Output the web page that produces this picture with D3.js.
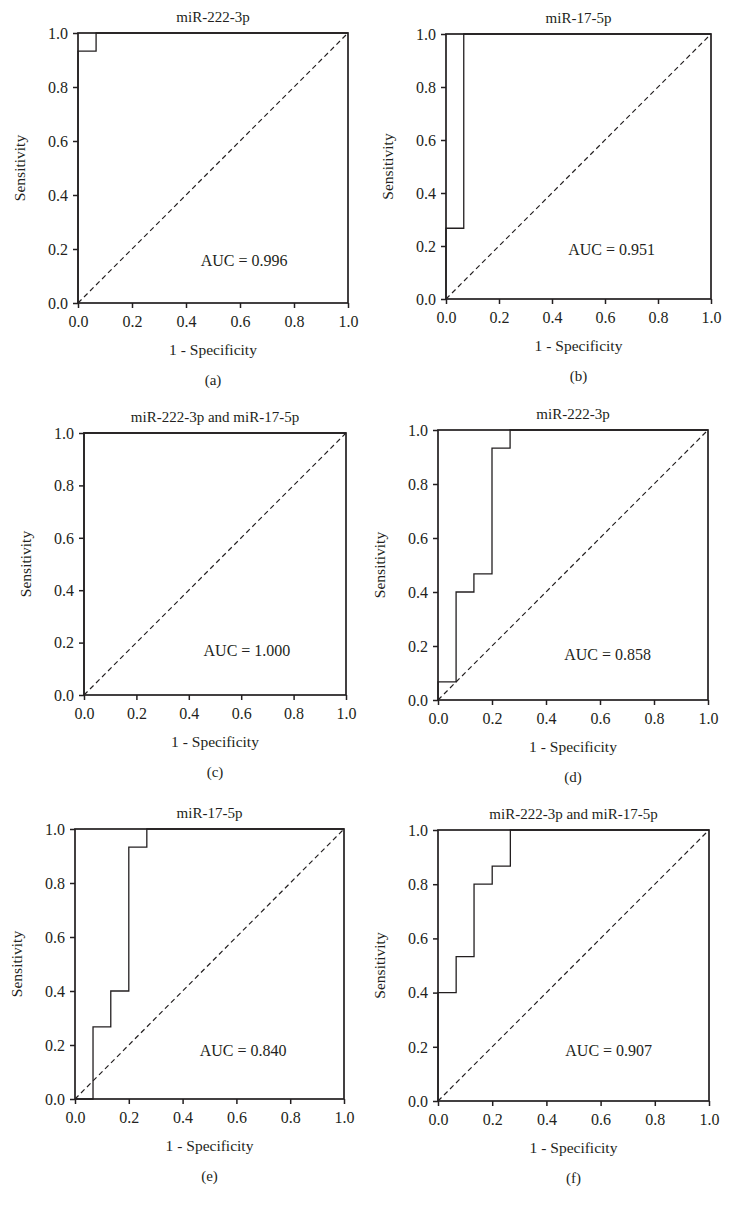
<!DOCTYPE html>
<html>
<head>
<meta charset="utf-8">
<script src="https://cdn.jsdelivr.net/npm/d3@7"></script>
<style>
  body { margin: 0; background: #fff; }
  svg { display: block; }
  text { font-family: "Liberation Serif", "Times New Roman", serif; fill: #231f20; }
</style>
</head>
<body>
<svg id="fig" width="730" height="1211"></svg>
<script>
// panel titles and sub labels
let titles = ["miR-222-3p", "miR-17-5p", "miR-222-3p and miR-17-5p",
              "miR-222-3p", "miR-17-5p", "miR-222-3p and miR-17-5p"];
let letters = ["(a)", "(b)", "(c)", "(d)", "(e)", "(f)"];
let aucText = ["AUC = 0.996", "AUC = 0.951", "AUC = 1.000",
               "AUC = 0.858", "AUC = 0.840", "AUC = 0.907"];

// ROC curves: 1 - specificity (fpr) and sensitivity (tpr)
let fprA = [0, 0, 0.067, 0.067, 1];
let tprA = [0, 0.933, 0.933, 1, 1];
let fprB = [0, 0, 0.067, 0.067, 1];
let tprB = [0, 0.267, 0.267, 1, 1];
let fprC = [0, 0, 1];
let tprC = [0, 1, 1];
let fprD = [0, 0, 0.067, 0.067, 0.133, 0.133, 0.2, 0.2, 0.267, 0.267, 1];
let tprD = [0, 0.067, 0.067, 0.4, 0.4, 0.467, 0.467, 0.933, 0.933, 1, 1];
let fprE = [0, 0.067, 0.067, 0.133, 0.133, 0.2, 0.2, 0.267, 0.267, 1];
let tprE = [0, 0, 0.267, 0.267, 0.4, 0.4, 0.933, 0.933, 1, 1];
let fprF = [0, 0, 0.067, 0.067, 0.133, 0.133, 0.2, 0.2, 0.267, 0.267, 1];
let tprF = [0, 0.4, 0.4, 0.533, 0.533, 0.8, 0.8, 0.867, 0.867, 1, 1];

let tickValues = [0, 0.2, 0.4, 0.6, 0.8, 1.0];

let curves = [[fprA, tprA], [fprB, tprB], [fprC, tprC],
              [fprD, tprD], [fprE, tprE], [fprF, tprF]];

// plot rectangles (pixels) and AUC label anchor in data units
let boxes = [
  {x0: 78,  x1: 348, y0: 33,  y1: 303,  ax: 0.615, ay: 0.136},
  {x0: 446, x1: 711, y0: 34,  y1: 299,  ax: 0.625, ay: 0.167},
  {x0: 84,  x1: 346, y0: 433, y1: 695,  ax: 0.622, ay: 0.150},
  {x0: 438, x1: 708, y0: 430, y1: 700,  ax: 0.628, ay: 0.150},
  {x0: 75,  x1: 344, y0: 829, y1: 1099, ax: 0.625, ay: 0.158},
  {x0: 438, x1: 709, y0: 830, y1: 1101, ax: 0.630, ay: 0.166}
];

let ink = "#231f20";
let svg = d3.select("#fig");

boxes.forEach(function(b, i) {
  let x = d3.scaleLinear().domain([0, 1]).range([b.x0, b.x1]);
  let y = d3.scaleLinear().domain([0, 1]).range([b.y1, b.y0]);
  let g = svg.append("g");

  // diagonal reference
  g.append("line")
    .attr("x1", x(0)).attr("y1", y(0))
    .attr("x2", x(1)).attr("y2", y(1))
    .attr("stroke", ink).attr("stroke-width", 1.2)
    .attr("stroke-dasharray", "5,3.5");

  // roc step curve
  let pts = curves[i][0].map(function(v, k) { return [v, curves[i][1][k]]; });
  g.append("path")
    .attr("d", d3.line().x(function(d) { return x(d[0]); }).y(function(d) { return y(d[1]); })(pts))
    .attr("fill", "none").attr("stroke", ink).attr("stroke-width", 1.3);

  // frame
  g.append("rect")
    .attr("x", b.x0).attr("y", b.y0)
    .attr("width", b.x1 - b.x0).attr("height", b.y1 - b.y0)
    .attr("fill", "none").attr("stroke", ink).attr("stroke-width", 1.7);

  let xAxis = g.append("g")
    .attr("transform", "translate(0," + b.y1 + ")")
    .call(d3.axisBottom(x).tickValues(tickValues).tickSize(5).tickPadding(8).tickFormat(d3.format(".1f")));
  let yAxis = g.append("g")
    .attr("transform", "translate(" + b.x0 + ",0)")
    .call(d3.axisLeft(y).tickValues(tickValues).tickSize(5).tickPadding(5).tickFormat(d3.format(".1f")));

  [xAxis, yAxis].forEach(function(a) {
    a.select(".domain").remove();
    a.selectAll("line").attr("stroke", ink).attr("stroke-width", 1.5);
    a.selectAll("text").style("font-size", "16px").style("fill", ink);
  });
  yAxis.selectAll("text").attr("dy", "0.33em");

  let cx = (b.x0 + b.x1) / 2, cy = (b.y0 + b.y1) / 2;

  g.append("text").attr("x", cx).attr("y", b.y0 - 11)
    .attr("text-anchor", "middle").style("font-size", "15px").text(titles[i]);

  g.append("text").attr("x", cx).attr("y", b.y1 + 52)
    .attr("text-anchor", "middle").style("font-size", "15.5px").text("1 - Specificity");

  g.append("text")
    .attr("transform", "translate(" + (b.x0 - 53) + "," + cy + ") rotate(-90)")
    .attr("text-anchor", "middle").style("font-size", "15.5px").text("Sensitivity");

  g.append("text").attr("x", x(b.ax)).attr("y", y(b.ay))
    .attr("text-anchor", "middle").style("font-size", "16px").text(aucText[i]);

  g.append("text").attr("x", cx).attr("y", b.y1 + 82)
    .attr("text-anchor", "middle").style("font-size", "15px").text(letters[i]);
});
</script>
</body>
</html>
